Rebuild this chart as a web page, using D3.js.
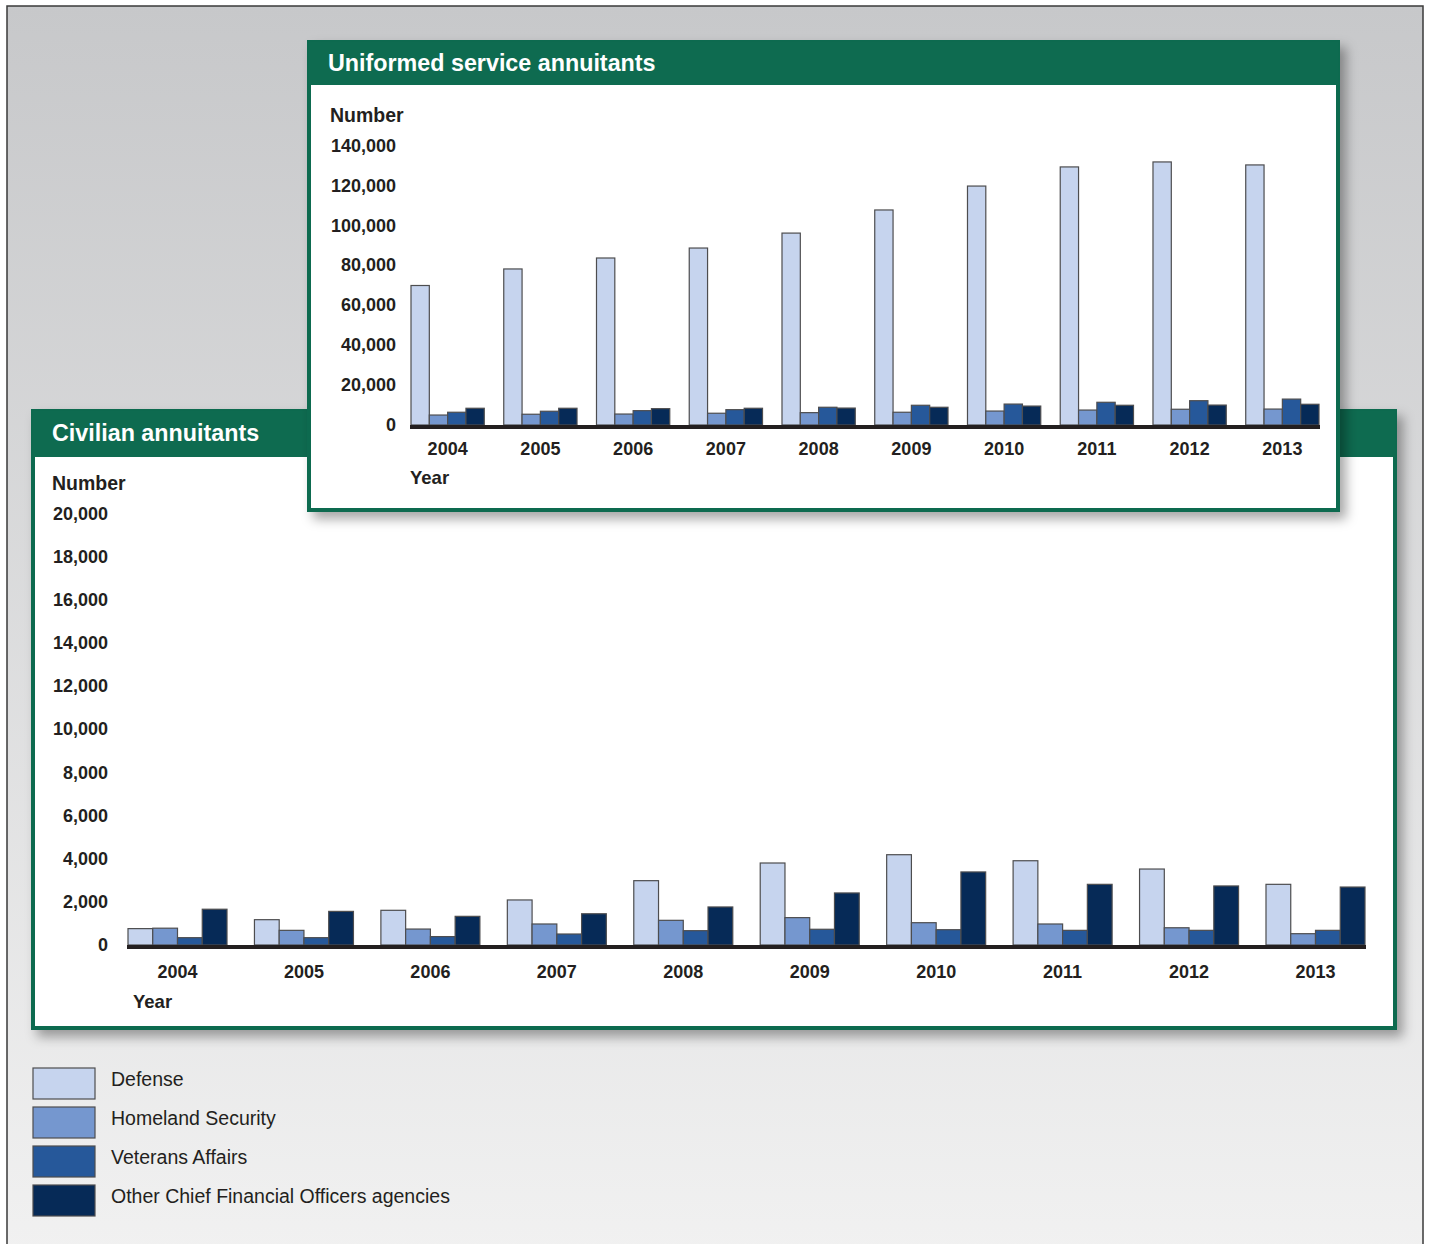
<!DOCTYPE html>
<html>
<head>
<meta charset="utf-8">
<script src="https://cdn.jsdelivr.net/npm/d3@7"></script>
<style>
  body { margin: 0; background: #fff; }
  svg { display: block; }
  text { font-family: "Liberation Sans", Arial, Helvetica, sans-serif; }
</style>
</head>
<body>
<div id="chart"></div>
<script>
// years and agencies
var years = ["2004", "2005", "2006", "2007", "2008", "2009", "2010", "2011", "2012", "2013"];
var agencies = ["Defense", "Homeland Security", "Veterans Affairs", "Other Chief Financial Officers agencies"];
var colors = ["#c6d4ee", "#7597cf", "#26589a", "#062a57"];

// uniformed service annuitants
var uniDefense = [70000, 78300, 83800, 88800, 96300, 107900, 119900, 129500, 132000, 130500];
var uniHomeland = [5000, 5400, 5500, 5900, 6200, 6400, 7000, 7500, 7900, 8000];
var uniVeterans = [6400, 6900, 7200, 7700, 8900, 9900, 10500, 11400, 12200, 13000];
var uniOther = [8400, 8400, 8200, 8400, 8500, 8900, 9500, 9900, 10000, 10400];
var uniTicks = [0, 20000, 40000, 60000, 80000, 100000, 120000, 140000];

// civilian annuitants
var civDefense = [760, 1175, 1610, 2090, 2985, 3805, 4190, 3910, 3525, 2815];
var civHomeland = [780, 680, 740, 975, 1145, 1270, 1035, 975, 800, 525];
var civVeterans = [340, 340, 390, 510, 665, 730, 710, 680, 680, 680];
var civOther = [1660, 1560, 1330, 1450, 1765, 2415, 3390, 2815, 2740, 2690];
var civTicks = [0, 2000, 4000, 6000, 8000, 10000, 12000, 14000, 16000, 18000, 20000];

var W = 1429, H = 1244;
var svg = d3.select("#chart").append("svg").attr("width", W).attr("height", H);

var defs = svg.append("defs");
var grad = defs.append("linearGradient").attr("id", "bg").attr("x1", 0).attr("y1", 0).attr("x2", 0).attr("y2", 1);
grad.append("stop").attr("offset", "0%").attr("stop-color", "#c7c8ca");
grad.append("stop").attr("offset", "100%").attr("stop-color", "#f1f1f1");

var shadow = defs.append("filter").attr("id", "shadow")
    .attr("x", "-5%").attr("y", "-5%").attr("width", "115%").attr("height", "120%");
shadow.append("feDropShadow").attr("dx", 6).attr("dy", 7).attr("stdDeviation", 6)
    .attr("flood-color", "#000").attr("flood-opacity", 0.35);

// outer frame
svg.append("rect").attr("x", 7).attr("y", 6).attr("width", 1416).attr("height", 1250)
    .attr("fill", "url(#bg)").attr("stroke", "#3a3a3a").attr("stroke-width", 1.5);

function drawPanel(p) {
    var g = svg.append("g");
    g.append("rect").attr("x", p.x).attr("y", p.y).attr("width", p.w).attr("height", p.h)
        .attr("fill", "#fff").attr("stroke", "#0e6b50").attr("stroke-width", 4)
        .attr("filter", "url(#shadow)");
    g.append("rect").attr("x", p.x).attr("y", p.y).attr("width", p.w).attr("height", p.headH)
        .attr("fill", "#0e6b50");
    g.append("text").attr("x", p.x + p.titleX).attr("y", p.y + p.headH / 2 + 7)
        .attr("fill", "#fff").attr("font-size", 23.3).attr("font-weight", "bold")
        .text(p.title);

    var x0 = d3.scaleBand().domain(years).range(p.xRange).paddingInner(p.padIn).paddingOuter(0);
    var x1 = d3.scaleBand().domain(d3.range(4)).range([0, x0.bandwidth()]);
    var y = d3.scaleLinear().domain([0, p.max]).range(p.yRange);

    var yAxis = g.append("g").attr("transform", "translate(" + p.tickX + ",0)")
        .call(d3.axisLeft(y).tickValues(p.ticks).tickSize(0).tickPadding(0).tickFormat(d3.format(",")));
    yAxis.select(".domain").remove();
    yAxis.selectAll("text").attr("font-size", 18).attr("font-weight", "bold").attr("fill", "#231f20")
        .attr("font-family", "Liberation Sans, Arial, sans-serif").attr("dy", "0.3em");

    g.append("text").attr("x", p.numX).attr("y", p.yRange[1] - 24)
        .attr("font-size", 19.5).attr("font-weight", "bold").attr("fill", "#231f20").text("Number");

    var series = p.series;
    var grp = g.selectAll(".yr").data(years).enter().append("g")
        .attr("transform", function (d) { return "translate(" + x0(d) + ",0)"; });
    grp.selectAll("rect").data(function (d, i) {
        return series.map(function (s, k) { return { k: k, v: s[i] }; });
    }).enter().append("rect")
        .attr("x", function (d) { return x1(d.k); })
        .attr("y", function (d) { return y(d.v); })
        .attr("width", x1.bandwidth())
        .attr("height", function (d) { return y(0) - y(d.v); })
        .attr("fill", function (d) { return colors[d.k]; })
        .attr("stroke", "#4d4d4f").attr("stroke-width", 1.2);

    // baseline
    g.append("line").attr("x1", p.xRange[0] - 1).attr("x2", p.xRange[1] + 1)
        .attr("y1", y(0) + 2).attr("y2", y(0) + 2)
        .attr("stroke", "#231f20").attr("stroke-width", 4);

    var xAxis = g.append("g").attr("transform", "translate(0," + (y(0) + 4) + ")")
        .call(d3.axisBottom(x0).tickSize(0).tickPadding(p.yearPad));
    xAxis.select(".domain").remove();
    xAxis.selectAll("text").attr("font-size", 18).attr("font-weight", "bold").attr("fill", "#231f20")
        .attr("font-family", "Liberation Sans, Arial, sans-serif");

    g.append("text").attr("x", p.yearX).attr("y", y(0) + p.yearDy)
        .attr("font-size", 18.5).attr("font-weight", "bold").attr("fill", "#231f20").text("Year");
}

drawPanel({
    x: 33, y: 411, w: 1362, h: 617, headH: 46, titleX: 19,
    title: "Civilian annuitants",
    xRange: [128, 1365], padIn: 0.217, yRange: [945, 514], max: 20000, ticks: civTicks,
    tickX: 108, numX: 52, yearX: 133, yearPad: 16, yearDy: 63,
    series: [civDefense, civHomeland, civVeterans, civOther]
});

drawPanel({
    x: 309, y: 42, w: 1029, h: 468, headH: 43, titleX: 19,
    title: "Uniformed service annuitants",
    xRange: [411, 1319], padIn: 0.21, yRange: [425, 146], max: 140000, ticks: uniTicks,
    tickX: 396, numX: 330, yearX: 410, yearPad: 13, yearDy: 59,
    series: [uniDefense, uniHomeland, uniVeterans, uniOther]
});

// legend
var leg = svg.append("g").selectAll("g").data(agencies).enter().append("g")
    .attr("transform", function (d, i) { return "translate(33," + (1068 + i * 39) + ")"; });
leg.append("rect").attr("width", 62).attr("height", 31)
    .attr("fill", function (d, i) { return colors[i]; })
    .attr("stroke", "#4d4d4f").attr("stroke-width", 1.2);
leg.append("text").attr("x", 78).attr("y", 11).attr("dy", "0.35em")
    .attr("font-size", 19.5).attr("fill", "#231f20").text(function (d) { return d; });
</script>
</body>
</html>
